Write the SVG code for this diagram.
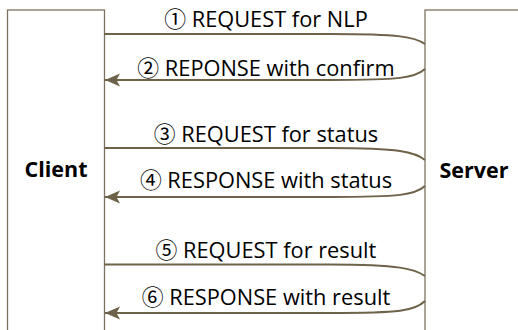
<svg xmlns="http://www.w3.org/2000/svg" width="518" height="330" viewBox="0 0 518 330">
<style>
.box{fill:#fff;stroke:#7d7260;stroke-width:1.3}
.ln{fill:none;stroke:#6e6249;stroke-width:2}
.lbl{font-family:"Open Sans","Noto Sans CJK JP","DejaVu Sans",sans-serif;font-size:21.8px;fill:#000;text-anchor:middle}
.nm{font-family:"Open Sans","DejaVu Sans",sans-serif;font-size:21.5px;font-weight:bold;fill:#000;text-anchor:middle}
</style>
<defs>
<marker id="ah" markerUnits="userSpaceOnUse" markerWidth="16" markerHeight="14" refX="15" refY="6.5" orient="auto">
<path d="M0,0 L15,6.5 L0,13 L3.5,6.5 z" fill="#6e6249"/>
</marker>
</defs>
<rect width="518" height="330" fill="#fff"/>
<g id="client"><rect class="box" x="7.5" y="10" width="97" height="330"/><text class="nm" x="56" y="177">Client</text></g>
<g id="server"><rect class="box" x="425" y="10" width="110" height="330"/><text class="nm" x="474" y="178">Server</text></g>
<g id="connectors">
<path class="ln" d="M104.5,34 L330,34 C400,34 415,37 425,44"/>
<path class="ln" d="M425,69 C415,78 400,80 330,80 L105,80" marker-end="url(#ah)"/>
<path class="ln" d="M104.5,148 L330,148 C400,148 415,152 425,160"/>
<path class="ln" d="M425,186 C415,195 400,197 330,197 L105,197" marker-end="url(#ah)"/>
<path class="ln" d="M104.5,264.5 L330,264.5 C400,264.5 415,269 425,276"/>
<path class="ln" d="M425,301 C415,311 400,313 330,313 L105,313" marker-end="url(#ah)"/>
</g>
<g id="labels">
<text class="lbl" x="266" y="27">① REQUEST for NLP</text>
<text class="lbl" x="266" y="76">② REPONSE with confirm</text>
<text class="lbl" x="266" y="142">③ REQUEST for status</text>
<text class="lbl" x="266" y="188">④ RESPONSE with status</text>
<text class="lbl" x="266" y="258">⑤ REQUEST for result</text>
<text class="lbl" x="266" y="305">⑥ RESPONSE with result</text>
</g>
</svg>
